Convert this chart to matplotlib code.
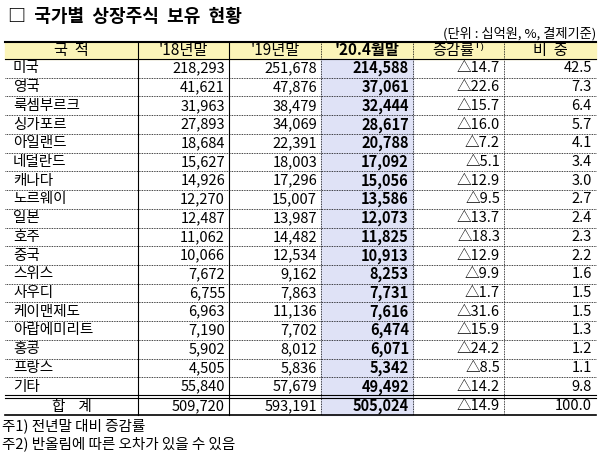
import matplotlib.pyplot as plt

plt.rcParams['font.family'] = ['Noto Sans CJK KR', 'DejaVu Sans']

countries = ['미국', '영국', '룩셈부르크', '싱가포르', '아일랜드', '네덜란드', '캐나다', '노르웨이', '일본',
             '호주', '중국', '스위스', '사우디', '케이맨제도', '아랍에미리트', '홍콩', '프랑스', '기타']
y2018 = ['218,293', '41,621', '31,963', '27,893', '18,684', '15,627', '14,926', '12,270', '12,487',
         '11,062', '10,066', '7,672', '6,755', '6,963', '7,190', '5,902', '4,505', '55,840']
y2019 = ['251,678', '47,876', '38,479', '34,069', '22,391', '18,003', '17,296', '15,007', '13,987',
         '14,482', '12,534', '9,162', '7,863', '11,136', '7,702', '8,012', '5,836', '57,679']
y2020 = ['214,588', '37,061', '32,444', '28,617', '20,788', '17,092', '15,056', '13,586', '12,073',
         '11,825', '10,913', '8,253', '7,731', '7,616', '6,474', '6,071', '5,342', '49,492']
change = ['14.7', '22.6', '15.7', '16.0', '7.2', '5.1', '12.9', '9.5', '13.7',
          '18.3', '12.9', '9.9', '1.7', '31.6', '15.9', '24.2', '8.5', '14.2']
share = ['42.5', '7.3', '6.4', '5.7', '4.1', '3.4', '3.0', '2.7', '2.4',
         '2.3', '2.2', '1.6', '1.5', '1.5', '1.3', '1.2', '1.1', '9.8']
total = ['합    계', '509,720', '593,191', '505,024', '△14.9', '100.0']
headers = ['국  적', "'18년말", "'19년말", "'20.4월말", '증감률¹⁾', '비  중']

fig = plt.figure(figsize=(6, 4.58), dpi=100)
ax = fig.add_axes([0, 0, 1, 1])
ax.set_xlim(0, 600)
ax.set_ylim(458, 0)
ax.axis('off')

xs = [5, 138, 229, 321, 413, 504, 596]
top, hb = 42, 59
rh = (396 - hb) / len(countries)
bottom = 415
fs = 10.5

ax.text(8, 16, '□  국가별  상장주식  보유  현황', fontsize=13, fontweight='bold', va='center')
ax.text(596, 34, '(단위 : 십억원, %, 결제기준)', fontsize=9.5, ha='right', va='center')

# backgrounds
ax.add_patch(plt.Rectangle((xs[0], top), xs[-1] - xs[0], hb - top, color='#fbf4b8', zorder=0))
ax.add_patch(plt.Rectangle((xs[3], hb), xs[4] - xs[3], bottom - hb, color='#dfe2f6', zorder=0))

for i, h in enumerate(headers):
    ax.text((xs[i] + xs[i + 1]) / 2, (top + hb) / 2, h, fontsize=fs + 0.5, ha='center', va='center',
            fontweight='bold' if i == 3 else 'normal')

rows = [[c, a, b, d, '△' + e, f] for c, a, b, d, e, f in zip(countries, y2018, y2019, y2020, change, share)]
rows.append(total)
for r, row in enumerate(rows):
    yc = hb + rh * (r + 0.5) if r < len(countries) else (396 + bottom) / 2 + 1
    for i, v in enumerate(row):
        if i == 0:
            if r < len(countries):
                ax.text(xs[0] + 8, yc, v, fontsize=fs, va='center')
            else:
                ax.text((xs[0] + xs[1]) / 2, yc, v, fontsize=fs, ha='center', va='center')
        else:
            ax.text(xs[i + 1] - 4, yc, v, fontsize=fs, ha='right', va='center',
                    fontweight='bold' if i == 3 else 'normal')

# lines
ax.plot([xs[0], xs[-1]], [top, top], color='black', lw=1.5)
ax.plot([xs[0], xs[-1]], [hb, hb], color='black', lw=0.8)
for r in range(1, len(countries)):
    y = hb + rh * r
    ax.plot([xs[0], xs[-1]], [y, y], color='black', lw=0.6, ls=(0, (1, 1)))
ax.plot([xs[0], xs[-1]], [395, 395], color='black', lw=0.8)
ax.plot([xs[0], xs[-1]], [397.5, 397.5], color='black', lw=0.8)
ax.plot([xs[0], xs[-1]], [bottom, bottom], color='black', lw=1.2)
for i, x in enumerate(xs[1:-1], start=1):
    ax.plot([x, x], [top, bottom], color='black', lw=0.8 if i <= 2 else 0.6,
            ls='-' if i <= 2 else (0, (1, 1)))

ax.text(2, 426, '주1) 전년말 대비 증감률', fontsize=fs, va='center')
ax.text(2, 444, '주2) 반올림에 따른 오차가 있을 수 있음', fontsize=fs, va='center')

fig.savefig('out.png', dpi=100)
